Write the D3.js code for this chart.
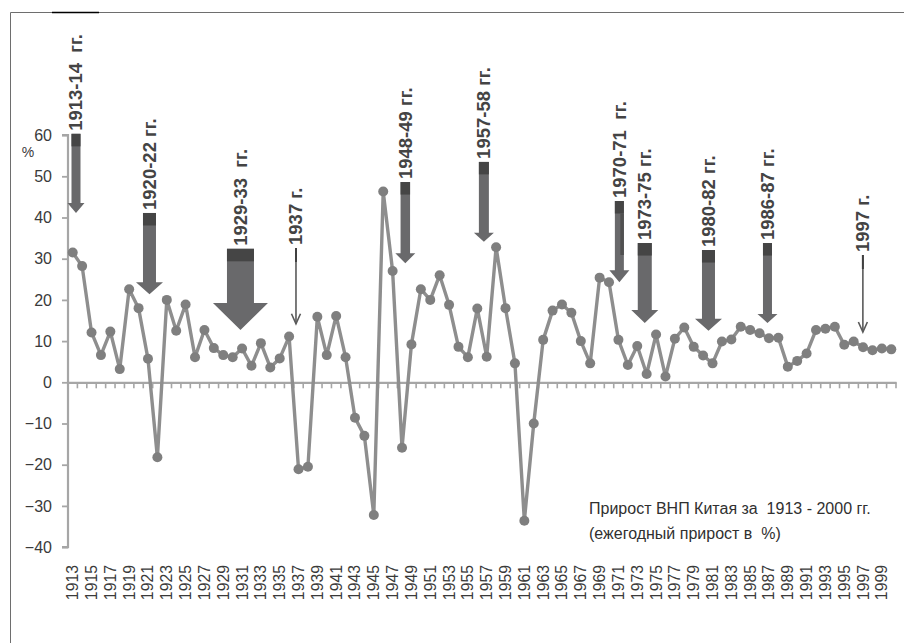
<!DOCTYPE html>
<html><head><meta charset="utf-8">
<script src="https://cdn.jsdelivr.net/npm/d3@7/dist/d3.min.js"></script>
<style>
html,body{margin:0;padding:0;background:#fff;}
svg{display:block;font-family:"Liberation Sans",Arial,sans-serif;}
.pre{white-space:pre;}
</style></head>
<body>
<svg id="chart" width="904" height="643"></svg>
<script>
// ---- data ----
const years = d3.range(1913, 2001);
const growth = [
  31.5, 28.2, 12.1, 6.6, 12.3, 3.2, 22.6, 18.0, 5.7, -18.2,
  20.0, 12.5, 18.9, 6.1, 12.7, 8.3, 6.6, 6.1, 8.2, 4.0,
  9.5, 3.6, 5.8, 11.1, -21.1, -20.5, 15.9, 6.6, 16.1, 6.1,
  -8.6, -13.0, -32.2, 46.3, 27.0, -15.9, 9.2, 22.6, 20.0, 26.0,
  18.8, 8.6, 6.1, 17.9, 6.2, 32.8, 18.0, 4.6, -33.6, -10.0,
  10.3, 17.4, 18.9, 16.9, 10.0, 4.6, 25.4, 24.3, 10.3, 4.2,
  8.8, 2.0, 11.6, 1.4, 10.6, 13.3, 8.6, 6.5, 4.6, 9.9,
  10.4, 13.5, 12.7, 11.9, 10.7, 10.8, 3.8, 5.2, 7.0, 12.7,
  13.0, 13.5, 9.1, 9.9, 8.5, 7.8, 8.2, 8.0
];
const yTicks = [-40, -30, -20, -10, 0, 10, 20, 30, 40, 50, 60];
const xTickLabels = years.filter((y, i) => i % 2 === 0);

// annotation arrows (value space)
const annLabels = ["1913-14  гг.", "1920-22 гг.", "1929-33  гг.", "1937 г.", "1948-49 гг.", "1957-58 гг.",
                   "1970-71  гг.", "1973-75 гг.", "1980-82 гг.", "1986-87 гг.", "1997 г."];
const annYears  = [1913.35, 1921.16, 1930.83, 1936.73, 1948.35, 1956.7, 1971.1, 1973.8, 1980.57, 1986.84, 1996.98];
const annTops   = [60.3, 41.1, 32.4, 32.6, 48.6, 53.5, 44.0, 33.8, 32.1, 33.8, 30.9];
const annTips   = [41.1, 21.4, 12.7, 14.2, 28.9, 34.1, 24.3, 14.4, 12.5, 14.4, 12.2];
const annKinds  = ["block","block","block","thin","block","block","block","block","block","block","thin"];

const captionLines = ["Прирост ВНП Китая за  1913 - 2000 гг.", "(ежегодный прирост в  %)"];
const yUnit = "%";

// ---- styles / layout ----
const annShaft = [9, 13, 27, 0, 9.5, 10, 9, 14, 13, 9, 0];
const annHead  = [17, 27, 55, 9, 20, 20, 20, 27, 27, 20, 9];
const annHeadH = [10, 12, 27, 10, 10, 9, 12, 13, 12, 9, 10];

const svg = d3.select("#chart");
svg.append("rect").attr("width", 904).attr("height", 643).attr("fill", "#fff");
// outer frame
svg.append("path").attr("d", "M10.5,643 V12.5 H904").attr("fill", "none").attr("stroke", "#6e6e6e").attr("stroke-width", 1);
svg.append("line").attr("x1", 52).attr("x2", 99).attr("y1", 12.5).attr("y2", 12.5).attr("stroke", "#000").attr("stroke-width", 1.5);

const x = d3.scaleBand().domain(years).range([68, 896]).paddingInner(0).paddingOuter(0);
const step = x.step();
const y = d3.scaleLinear().domain([-40, 60]).range([547.1, 135.1]);
const xc = yr => x(yr) + step / 2;
const xf = yr => x(years[0]) + step / 2 + (yr - years[0]) * step; // fractional year

const axisGrey = "#a6a6a6";
const textCol = "#3a3a3a";

// y axis
const yAxis = svg.append("g").attr("transform", "translate(68,0)")
  .call(d3.axisLeft(y).tickValues(yTicks).tickSize(6).tickPadding(10).tickFormat(d3.format("d")));
yAxis.select(".domain").attr("stroke", axisGrey).attr("stroke-width", 2.2).attr("d", `M-6,${y(60)}H0V${y(-40)}H-6`);
yAxis.selectAll(".tick line").attr("stroke", axisGrey).attr("stroke-width", 1.8);
yAxis.selectAll(".tick text").attr("fill", textCol).attr("font-size", "16px")
  .attr("font-family", "Liberation Sans, Arial, sans-serif");

svg.append("text").attr("x", 28).attr("y", 152).attr("text-anchor", "middle").attr("dominant-baseline", "central")
  .attr("font-size", "14px").attr("fill", textCol).text(yUnit);

// x axis at zero
const y0 = y(0);
const xAxis = svg.append("g").attr("transform", `translate(0,${y0})`)
  .call(d3.axisBottom(x).tickValues([]).tickSizeOuter(0));
xAxis.select(".domain").attr("stroke", axisGrey).attr("stroke-width", 2.2);
svg.append("g").selectAll("line").data(d3.range(years.length + 1)).join("line")
  .attr("x1", i => 68 + i * step).attr("x2", i => 68 + i * step)
  .attr("y1", y0).attr("y2", y0 + 6).attr("stroke", axisGrey).attr("stroke-width", 1.6);

// x tick labels
svg.append("g").selectAll("text").data(xTickLabels).join("text")
  .attr("transform", d => `translate(${xc(d)},565) rotate(-90)`)
  .attr("text-anchor", "end").attr("dominant-baseline", "central")
  .attr("font-size", "15.8px").attr("fill", textCol).text(d => d);

// series line
const pts = years.map((yr, i) => [xc(yr), y(growth[i])]);
svg.append("path").attr("d", d3.line()(pts)).attr("fill", "none")
  .attr("stroke", "#8e8e8e").attr("stroke-width", 3.4).attr("stroke-linejoin", "round");
svg.append("g").selectAll("circle").data(pts).join("circle")
  .attr("cx", d => d[0]).attr("cy", d => d[1]).attr("r", 5).attr("fill", "#7f7f7f");

// annotations
const ann = svg.append("g");
annLabels.forEach((lab, i) => {
  const cx = xf(annYears[i]);
  const yt = y(annTops[i]);
  const yp = y(annTips[i]);
  if (annKinds[i] === "block") {
    const sw = annShaft[i], hw = annHead[i], hh = annHeadH[i];
    ann.append("path")
      .attr("d", `M${cx - sw / 2},${yt}H${cx + sw / 2}V${yp - hh}H${cx + hw / 2}L${cx},${yp}L${cx - hw / 2},${yp - hh}H${cx - sw / 2}Z`)
      .attr("fill", "#69696b");
    ann.append("rect").attr("x", cx - sw / 2).attr("y", yt).attr("width", sw).attr("height", 12.5).attr("fill", "#454545");
    if (i === 6) {
      ann.append("rect").attr("x", cx + sw / 2 - 3.5).attr("y", yt + 12.5).attr("width", 3.5)
        .attr("height", y(30.9) - yt - 12.5).attr("fill", "#505050");
    }
  } else {
    ann.append("line").attr("x1", cx).attr("x2", cx).attr("y1", yt).attr("y2", yp)
      .attr("stroke", "#5a5a5a").attr("stroke-width", 1.6);
    ann.append("line").attr("x1", cx).attr("x2", cx).attr("y1", yt).attr("y2", yt + 14)
      .attr("stroke", "#404040").attr("stroke-width", 2);
    ann.append("path").attr("d", `M${cx - annHead[i] / 2},${yp - annHeadH[i]}L${cx},${yp}L${cx + annHead[i] / 2},${yp - annHeadH[i]}`)
      .attr("fill", "none").attr("stroke", "#5a5a5a").attr("stroke-width", 1.6);
  }
  ann.append("text").attr("class", "pre")
    .attr("transform", `translate(${cx},${yt - 3}) rotate(-90)`)
    .attr("text-anchor", "start").attr("dominant-baseline", "central")
    .attr("font-size", "18.5px").attr("font-weight", "bold").attr("fill", "#444").text(lab);
});

// caption
svg.append("g").selectAll("text").data(captionLines).join("text").attr("class", "pre")
  .attr("x", 589).attr("y", (d, i) => 508 + i * 25).attr("dominant-baseline", "central")
  .attr("font-size", "16px").attr("fill", "#303030").text(d => d);
</script>
</body></html>
